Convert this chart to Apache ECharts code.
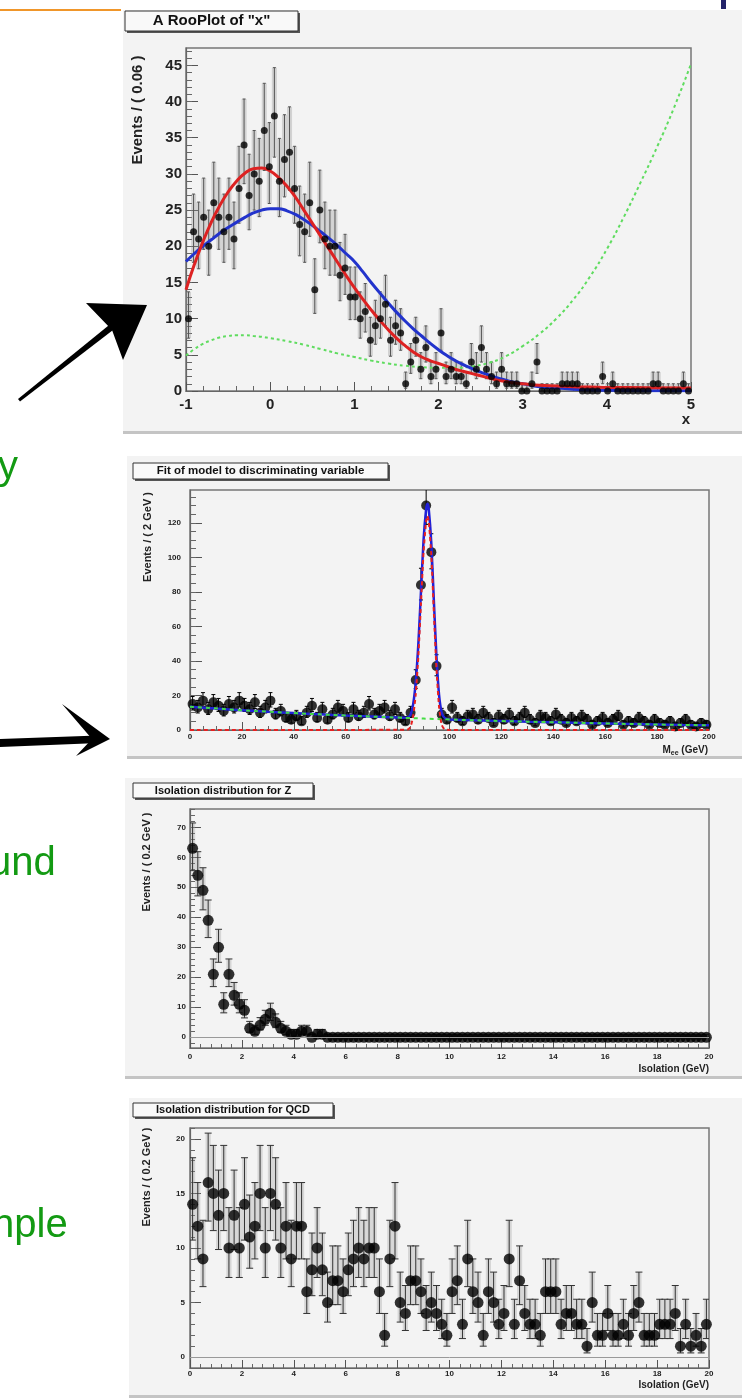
<!DOCTYPE html>
<html><head><meta charset="utf-8">
<script src="https://cdn.jsdelivr.net/npm/echarts@6/dist/echarts.min.js"></script>
<style>html,body{margin:0;padding:0;background:#fff;}#c{width:742px;height:1399px;}</style>
</head><body><div id="c"></div>
<script>
const FONT = "'Liberation Sans', Arial, Helvetica, sans-serif";

// ---------------- Panel 1 : A RooPlot of "x" ----------------
const p1Range = [-1, 5];
const p1BinWidth = 0.06;
const p1Counts = [
  10,22,21,24,20,26,24,22,24,21,
  28,34,27,30,29,36,31,38,29,32,
  33,28,23,22,26,14,25,21,20,20,
  16,17,13,13,10,11,7,9,10,12,
  7,9,8,1,4,7,3,6,2,3,
  8,2,3,2,2,1,4,3,6,3,
  2,1,3,1,1,1,0,0,1,4,
  0,0,0,0,1,1,1,1,0,0,
  0,0,2,0,1,0,0,0,0,0,
  0,0,1,1,0,0,0,0,1,0];
const p1CurveX = [-1,-0.9,-0.8,-0.7,-0.6,-0.5,-0.4,-0.3,-0.2,-0.1,0,0.1,0.2,0.3,0.4,0.5,0.6,0.7,0.8,0.9,1,1.1,1.2,1.3,1.4,1.5,1.6,1.7,1.8,1.9,2,2.1,2.2,2.3,2.4,2.5,2.6,2.7,2.8,2.9,3,3.2,3.4,3.6,3.8,4,4.5,5];
const p1Red = [14.0,17.5,20.6,23.3,25.6,27.5,29.0,30.1,30.7,30.8,30.4,29.5,28.3,26.8,25.0,23.2,21.4,19.6,17.8,16.0,14.3,12.7,11.2,9.8,8.5,7.3,6.3,5.4,4.7,4.2,3.8,3.4,3.0,2.7,2.4,2.1,1.8,1.5,1.3,1.1,1.0,0.8,0.7,0.6,0.55,0.5,0.45,0.4];
const p1Blue = [17.9,19.0,20.0,20.9,21.8,22.6,23.3,24.0,24.6,25.0,25.2,25.2,24.9,24.4,23.7,22.9,22.0,21.1,20.1,19.0,17.9,16.5,15.0,13.6,12.2,10.9,9.7,8.6,7.6,6.6,5.7,4.9,4.2,3.6,3.1,2.6,2.2,1.8,1.5,1.2,1.0,0.6,0.4,0.25,0.15,0.1,0.05,0.02];
const p1GreenX = [-1,-0.9,-0.8,-0.7,-0.6,-0.5,-0.4,-0.3,-0.2,-0.1,0,0.2,0.4,0.6,0.8,1,1.2,1.4,1.6,1.8,2,2.2,2.4,2.6,2.8,3,3.2,3.4,3.6,3.8,4,4.2,4.4,4.6,4.8,5];
const p1Green = [4.9,5.8,6.5,7.0,7.4,7.6,7.7,7.7,7.6,7.5,7.3,6.9,6.4,5.8,5.2,4.7,4.2,3.8,3.5,3.3,3.2,3.2,3.4,3.9,4.8,6.2,7.9,10.0,12.6,15.8,19.6,24.0,28.8,33.8,39.2,45.2];
const p1YTicks = [0,5,10,15,20,25,30,35,40,45];

// ---------------- Panel 2 : Fit of model to discriminating variable ----------------
const p2Range = [0, 200];
const p2BinWidth = 2;
const p2Counts = [
  15,13,17,12,16,14,11,15,13,17,
  14,12,16,10,13,17,9,11,7,6,
  8,5,10,14,7,12,6,9,13,11,
  7,12,8,10,15,9,11,13,8,12,
  7,5,10,29,84,130,103,37,9,6,
  13,7,5,8,9,6,10,7,4,8,
  6,9,5,7,10,6,4,8,7,5,
  9,6,4,7,5,8,6,3,5,7,
  4,6,8,3,5,4,7,5,3,6,
  4,3,5,2,4,6,3,2,4,3];
const p2TotalX = [0,10,20,30,40,50,60,70,80,82,84,85,86,87,88,89,90,91,91.5,92,93,94,95,96,97,98,99,100,110,120,130,140,150,160,170,180,190,200];
const p2Total = [13.5,12.4,11.5,10.6,9.8,9.1,8.4,7.8,7.2,7.1,7.3,9,15,28,50,80,110,128,131,128,108,74,42,20,10,7.2,6.4,6.1,5.6,5.2,4.8,4.5,4.1,3.8,3.5,3.2,2.9,2.7];
const p2SigX = [0,80,84,85,86,87,88,89,90,91,91.5,92,93,94,95,96,97,98,99,100,200];
const p2Sig = [0,0.1,0.3,2,8,21,43,73,103,121,124,121,101,67,35,13,3,0.5,0.1,0,0];
const p2BkgX = [0,20,40,60,80,100,120,140,160,180,200];
const p2Bkg = [13.5,11.5,9.8,8.4,7.2,6.1,5.2,4.5,3.8,3.2,2.7];
const p2YTicks = [0,20,40,60,80,100,120];

// ---------------- Panel 3 : isolation distribution for Z ----------------
const p3Range = [0, 20];
const p3BinWidth = 0.2;
const p3Counts = [
  63,54,49,39,21,30,11,21,14,11,
  9,3,2,4,6,8,5,3,2,1,
  1,2,2,0,1,1,0,0,0,0,
  0,0,0,0,0,0,0,0,0,0,
  0,0,0,0,0,0,0,0,0,0,
  0,0,0,0,0,0,0,0,0,0,
  0,0,0,0,0,0,0,0,0,0,
  0,0,0,0,0,0,0,0,0,0,
  0,0,0,0,0,0,0,0,0,0,
  0,0,0,0,0,0,0,0,0,0];
const p3YTicks = [0,10,20,30,40,50,60,70];

// ---------------- Panel 4 : isolation distribution for QCD ----------------
const p4Range = [0, 20];
const p4BinWidth = 0.2;
const p4Counts = [
  14,12,9,16,15,13,15,10,13,10,
  14,11,12,15,10,15,14,10,12,9,
  12,12,6,8,10,8,5,7,7,6,
  8,9,10,9,10,10,6,2,9,12,
  5,4,7,7,6,4,5,4,3,2,
  6,7,3,9,6,5,2,6,5,3,
  4,9,3,7,4,3,3,2,6,6,
  6,3,4,4,3,3,1,5,2,2,
  4,2,2,3,2,4,5,2,2,2,
  3,3,3,4,1,3,1,2,1,3];
const p4YTicks = [0,5,10,15,20];

// ---------------- helpers ----------------
function binned(counts, x0, w){ return counts.map((n,i)=>[x0 + w*(i+0.5), n]); }
// Poisson-style asymmetric error interval of each bin count
function errData(counts, x0, w){
  return counts.map((n,i)=>{ const s=Math.sqrt(n+0.25); return [x0+w*(i+0.5), Math.max(0,n+0.5-s), n+0.5+s]; });
}
function pairs(xs, ys){ return xs.map((x,i)=>[x, ys[i]]); }
function steps(a, b, s){ const r=[]; for(let v=a; v<=b+1e-9; v+=s) r.push(+v.toFixed(4)); return r; }

function errSeries(gi, data, w, capPx, lineColor, boxColor){
  return {type:'custom', xAxisIndex:gi, yAxisIndex:gi*2, data, encode:{x:0,y:[1,2]}, z:3, silent:true, clip:true,
    renderItem:(params, api)=>{
      const x=api.value(0), lo=api.value(1), hi=api.value(2);
      const a=api.coord([x,lo]), b=api.coord([x,hi]);
      const bw=Math.abs(api.size([w,0])[0]);
      const ch=[];
      if(boxColor) ch.push({type:'rect', shape:{x:a[0]-bw/2, y:b[1], width:bw, height:a[1]-b[1]}, style:{fill:boxColor}});
      ch.push({type:'line', shape:{x1:a[0],y1:a[1],x2:b[0],y2:b[1]}, style:{stroke:lineColor, lineWidth:1}});
      if(capPx){
        ch.push({type:'line', shape:{x1:b[0]-capPx/2,y1:b[1],x2:b[0]+capPx/2,y2:b[1]}, style:{stroke:lineColor,lineWidth:1}});
        ch.push({type:'line', shape:{x1:a[0]-capPx/2,y1:a[1],x2:a[0]+capPx/2,y2:a[1]}, style:{stroke:lineColor,lineWidth:1}});
      }
      return {type:'group', children:ch};
    }};
}

function mainY(gi, min, max, ticks, o){
  return {type:'value', gridIndex:gi, min, max, position:'left',
    axisLine:{show:true, onZero:false, lineStyle:{color:'#666', width:1.2}}, splitLine:{show:false},
    axisTick:{show:true, inside:true, length:o.major, customValues:ticks, lineStyle:{color:'#555', width:1}},
    axisLabel:{show:true, customValues:ticks, margin:o.margin, fontSize:o.fs, fontWeight:'bold', color:'#222', fontFamily:FONT}};
}
function minorY(gi, min, max, ticks, len){
  return {type:'value', gridIndex:gi, min, max, position:'left', offset:0,
    axisLine:{show:false, onZero:false}, splitLine:{show:false}, axisLabel:{show:false},
    axisTick:{show:true, inside:true, length:len, customValues:ticks, lineStyle:{color:'#666', width:1}}};
}
function xAx(gi, range, interval, minorSplit, o){
  return {type:'value', gridIndex:gi, min:range[0], max:range[1], interval, position:'bottom',
    axisLine:{show:true, onZero:false, lineStyle:{color:'#666', width:1.2}}, splitLine:{show:false},
    axisTick:{show:true, inside:true, length:o.major, lineStyle:{color:'#555'}},
    minorTick:{show:true, splitNumber:minorSplit, length:o.minor, lineStyle:{color:'#666'}},
    axisLabel:{margin:o.margin, fontSize:o.fs, fontWeight:'bold', color:'#222', fontFamily:FONT}};
}

const P1Y = [0, 47.4], P2Y = [0, 139], P3Y = [-3.57, 76.1], P4Y = [-1, 21];

const grids = [
  {left:186, top:48, width:505, height:343},
  {left:190, top:490, width:519, height:240},
  {left:190, top:809, width:519, height:239},
  {left:190, top:1128, width:519, height:240}
].map(g=>Object.assign(g,{show:true, borderColor:'#777', borderWidth:1.5, backgroundColor:'transparent'}));

const xAxes = [
  xAx(0, p1Range, 1, 5, {major:9, minor:5, margin:6, fs:15}),
  xAx(1, p2Range, 20, 4, {major:8, minor:4, margin:3, fs:8}),
  xAx(2, p3Range, 2, 5, {major:8, minor:4, margin:5, fs:8}),
  xAx(3, p4Range, 2, 5, {major:8, minor:4, margin:2, fs:8})
];
const yAxes = [
  mainY(0, P1Y[0], P1Y[1], p1YTicks, {major:12, margin:4, fs:15}),
  minorY(0, P1Y[0], P1Y[1], steps(0,47,1), 6),
  mainY(1, P2Y[0], P2Y[1], p2YTicks, {major:12, margin:9, fs:8}),
  minorY(1, P2Y[0], P2Y[1], steps(0,135,5), 6),
  mainY(2, P3Y[0], P3Y[1], p3YTicks, {major:11, margin:4, fs:8}),
  minorY(2, P3Y[0], P3Y[1], steps(-2,76,2), 5),
  mainY(3, P4Y[0], P4Y[1], p4YTicks, {major:11, margin:5, fs:8}),
  minorY(3, P4Y[0], P4Y[1], steps(0,21,1), 5)
];

const zeroLine = {silent:true, symbol:'none', label:{show:false}, data:[{yAxis:0}], lineStyle:{color:'#999', width:1, type:'solid'}};

const series = [
  // panel 1
  errSeries(0, errData(p1Counts, p1Range[0], p1BinWidth), p1BinWidth, 3, '#555', 'rgba(150,150,150,0.35)'),
  {type:'line', xAxisIndex:0, yAxisIndex:0, data:pairs(p1GreenX,p1Green), smooth:true, showSymbol:false, z:4,
   lineStyle:{color:'#5fdc5f', width:2, type:[3,3]}},
  {type:'line', xAxisIndex:0, yAxisIndex:0, data:pairs(p1CurveX,p1Blue), smooth:true, showSymbol:false, z:5,
   lineStyle:{color:'#2233cc', width:3}},
  {type:'line', xAxisIndex:0, yAxisIndex:0, data:pairs(p1CurveX,p1Red), smooth:true, showSymbol:false, z:6,
   lineStyle:{color:'#dd2222', width:3}},
  {type:'scatter', xAxisIndex:0, yAxisIndex:0, data:binned(p1Counts, p1Range[0], p1BinWidth), symbolSize:7, z:7,
   itemStyle:{color:'#000'}},
  // panel 2
  errSeries(1, errData(p2Counts, p2Range[0], p2BinWidth), p2BinWidth, 4, '#000', null),
  {type:'scatter', xAxisIndex:1, yAxisIndex:2, data:binned(p2Counts, p2Range[0], p2BinWidth), symbolSize:10, z:4,
   itemStyle:{color:'#000'}},
  {type:'line', xAxisIndex:1, yAxisIndex:2, data:pairs(p2TotalX,p2Total), smooth:0.2, showSymbol:false, z:5,
   lineStyle:{color:'#2020d8', width:2.5}},
  {type:'line', xAxisIndex:1, yAxisIndex:2, data:pairs(p2BkgX,p2Bkg), smooth:true, showSymbol:false, z:6,
   lineStyle:{color:'#44dd44', width:2, type:[4,4]}},
  {type:'line', xAxisIndex:1, yAxisIndex:2, data:pairs(p2SigX,p2Sig), smooth:0.2, showSymbol:false, z:7,
   lineStyle:{color:'#e82020', width:2, type:[4,3]}},
  // panel 3
  errSeries(2, errData(p3Counts, p3Range[0], p3BinWidth), p3BinWidth, 7, '#333', 'rgba(150,150,150,0.3)'),
  {type:'scatter', xAxisIndex:2, yAxisIndex:4, data:binned(p3Counts, p3Range[0], p3BinWidth), symbolSize:11, z:4,
   itemStyle:{color:'#000'}, markLine:zeroLine},
  // panel 4
  errSeries(3, errData(p4Counts, p4Range[0], p4BinWidth), p4BinWidth, 7, '#333', 'rgba(150,150,150,0.3)'),
  {type:'scatter', xAxisIndex:3, yAxisIndex:6, data:binned(p4Counts, p4Range[0], p4BinWidth), symbolSize:11, z:4,
   itemStyle:{color:'#000'}, markLine:zeroLine}
];

function panel(x,y,w,h){
  return [
    {type:'rect', z:-100, shape:{x, y, width:w, height:h}, style:{fill:'#f3f3f3'}},
    {type:'rect', z:-99, shape:{x, y:y+h, width:w, height:3}, style:{fill:'#c4c4c4'}}
  ];
}
function titleBox(x,y,w,h,text,fs,bold){
  return [
    {type:'rect', z:100, shape:{x:x+2, y:y+2, width:w, height:h}, style:{fill:'#555'}},
    {type:'rect', z:101, shape:{x, y, width:w, height:h}, style:{fill:'#f9f9f9', stroke:'#333', lineWidth:1}},
    {type:'text', z:102, x:x+w/2, y:y+h/2, style:{text, fontSize:fs, fontWeight:bold?'bold':'normal', fontFamily:FONT, fill:'#111', align:'center', verticalAlign:'middle'}}
  ];
}
function vText(x,y,text,fs){
  return {type:'text', z:50, x, y, rotation:Math.PI/2, style:{text, fontSize:fs, fontWeight:'bold', fontFamily:FONT, fill:'#222', align:'center', verticalAlign:'middle'}};
}
function hText(x,y,text,fs,align){
  return {type:'text', z:50, x, y, style:{text, fontSize:fs, fontWeight:'bold', fontFamily:FONT, fill:'#222', align:align||'center', verticalAlign:'middle'}};
}
function greenText(x,y,text){
  return {type:'text', z:50, x, y, style:{text, fontSize:40, fontFamily:FONT, fill:'#139a13', align:'left', verticalAlign:'middle'}};
}

const graphics = [].concat(
  panel(123,10,619,421), panel(127,456,615,300), panel(125,778,617,298), panel(129,1098,613,297),
  [
    {type:'line', shape:{x1:0,y1:10,x2:121,y2:10}, style:{stroke:'#f0962a', lineWidth:2}},
    {type:'rect', shape:{x:721,y:0,width:5,height:9}, style:{fill:'#24246a'}},
    // hand-drawn arrows
    {type:'polygon', shape:{points:[[18,399],[111,323.6],[115,328.4],[20,401.5]]}, style:{fill:'#000'}},
    {type:'polygon', shape:{points:[[86,303],[147,305],[123,360],[112,330]]}, style:{fill:'#000'}},
    {type:'polygon', shape:{points:[[0,739],[98,735.5],[99,743],[0,747]]}, style:{fill:'#000'}},
    {type:'polygon', shape:{points:[[62,704],[110,739],[76,756],[92,739]]}, style:{fill:'#000'}},
    greenText(-2,468,'y'), greenText(-11,864,'und'), greenText(-8,1226,'nple')
  ],
  titleBox(125,11,173,20,'A RooPlot of "x"',15,true),
  titleBox(133,463,255,16,'Fit of model to discriminating variable',11.5,true),
  titleBox(133,783,180,15,'Isolation distribution for Z',11,true),
  titleBox(133,1103,200,14,'Isolation distribution for QCD',11,true),
  [
    vText(138,110,'Events / ( 0.06 )',15),
    hText(686,420,'x',15),
    vText(148,537,'Events / ( 2 GeV )',11),
    {type:'text', z:50, x:708, y:750, style:{text:'{m|M}{s|ee}{m| (GeV)}', align:'right', verticalAlign:'middle', fill:'#222',
      rich:{m:{fontSize:10, fontWeight:'bold', fontFamily:FONT, fill:'#222'}, s:{fontSize:7, fontWeight:'bold', fontFamily:FONT, fill:'#222', padding:[6,0,0,0]}}}},
    vText(147,862,'Events / ( 0.2 GeV )',11),
    hText(709,1069,'Isolation (GeV)',10,'right'),
    vText(147,1177,'Events / ( 0.2 GeV )',11),
    hText(709,1385,'Isolation (GeV)',10,'right')
  ]
);

const chart = echarts.init(document.getElementById('c'), null, {renderer:'canvas'});
chart.setOption({
  animation:false,
  backgroundColor:'#ffffff',
  grid:grids, xAxis:xAxes, yAxis:yAxes, series, graphic:graphics
});
</script></body></html>
